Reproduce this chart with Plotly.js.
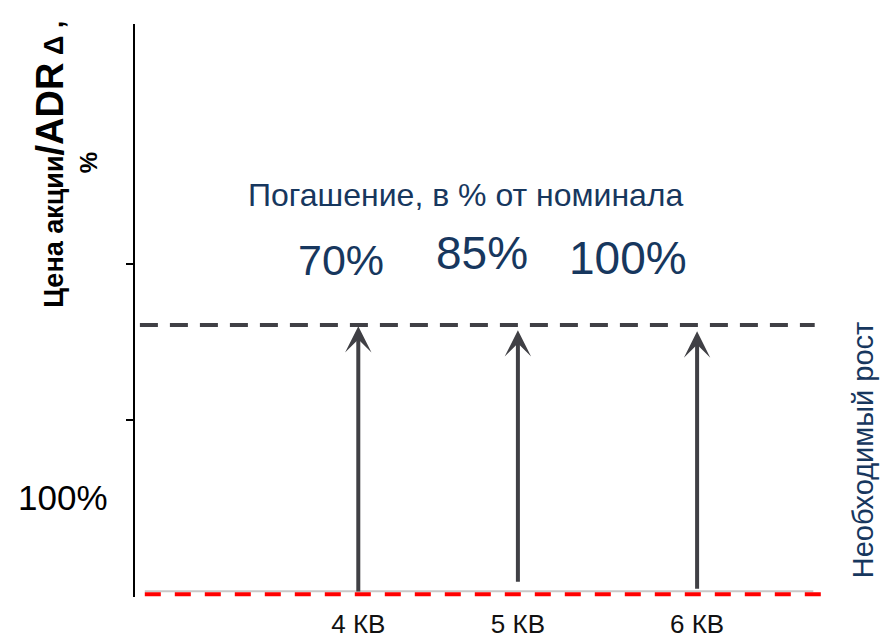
<!DOCTYPE html>
<html>
<head>
<meta charset="utf-8">
<script src="https://cdn.plot.ly/plotly-3.0.1.min.js"></script>
<style>
  html, body { margin: 0; padding: 0; background: #ffffff; }
  #chart { width: 882px; height: 638px; }
</style>
</head>
<body>
<div id="chart"></div>
<script>
// Quarters on the horizontal axis and where each one sits
const quarters = ["4 КВ", "5 КВ", "6 КВ"];
const quarterX = [31.9, 54.7, 80.3];

// Required growth arrows: start (current price) and end (needed level)
const arrowBase = [0.2, 1.9, 0.7];
const arrowTop = [47.0, 46.3, 46.1];

// Redemption share of face value for each quarter
const redemption = ["70%", "85%", "100%"];

// Horizontal levels
const baseLevel = 0;        // current price, 100%
const priceLine = 0.5;      // thin grey price line
const requiredLevel = 47.2; // level the price has to reach
const levelSpanRed = [1.4, 98.1];
const levelSpanGrey = [1.4, 96.9];
const levelSpanReq = [0.7, 97.1];

// Small marks on the vertical axis
const yTicks = [30.5, 57.9];

const FONT = "Arial, 'Liberation Sans', sans-serif";
const BLUE = "#17375e";
const ARROW = "#404045";

const traces = [
  {
    type: "scatter", mode: "lines",
    x: levelSpanGrey, y: [priceLine, priceLine],
    line: { color: "#c8c8c8", width: 2 },
    hoverinfo: "skip", showlegend: false
  },
  {
    type: "scatter", mode: "lines",
    x: levelSpanReq, y: [requiredLevel, requiredLevel],
    line: { color: ARROW, width: 4, dash: "18px,12px" },
    hoverinfo: "skip", showlegend: false
  },
  {
    type: "scatter", mode: "lines",
    x: levelSpanRed, y: [baseLevel, baseLevel],
    line: { color: "#ff0000", width: 4, dash: "16px,14px" },
    hoverinfo: "skip", showlegend: false
  }
];

const annotations = [];

// Growth arrows
quarterX.forEach((qx, i) => {
  annotations.push({
    x: qx, y: arrowTop[i], xref: "x", yref: "y",
    ax: qx, ay: arrowBase[i], axref: "x", ayref: "y",
    text: "", showarrow: true,
    arrowhead: 3, arrowwidth: 4, arrowsize: 1.1, arrowcolor: ARROW
  });
});

// Redemption percentages above the required level
const redemptionPos = [[29.4, 58.6], [49.6, 59.8], [70.4, 58.9]];
const redemptionSize = [43, 46, 46];
redemption.forEach((t, i) => {
  annotations.push({
    x: redemptionPos[i][0], y: redemptionPos[i][1], xref: "x", yref: "y",
    xanchor: "center", yanchor: "middle",
    text: t, showarrow: false,
    font: { family: FONT, size: redemptionSize[i], color: BLUE }
  });
});

annotations.push({
  x: 47.3, y: 70.0, xref: "x", yref: "y",
  xanchor: "center", yanchor: "middle",
  text: "Погашение, в % от номинала", showarrow: false,
  font: { family: FONT, size: 32, color: BLUE }
});

// Current price label on the left
annotations.push({
  x: -0.103, y: 0.1745, xref: "paper", yref: "paper",
  xanchor: "center", yanchor: "middle",
  text: "100%", showarrow: false,
  font: { family: FONT, size: 35, color: "#000000" }
});

// Right-hand caption
annotations.push({
  x: 1.04, y: 0.256, xref: "paper", yref: "paper",
  xanchor: "center", yanchor: "middle",
  text: "Необходимый рост", showarrow: false, textangle: -90,
  font: { family: FONT, size: 29, color: BLUE }
});

// Vertical axis caption, two lines
annotations.push({
  x: -0.121, y: 0.755, xref: "paper", yref: "paper",
  xanchor: "center", yanchor: "middle",
  text: "<b>Цена акции<span style='font-size:38px'>/ADR</span> Δ ,</b>",
  showarrow: false, textangle: -90,
  font: { family: FONT, size: 27, color: "#000000" }
});
annotations.push({
  x: -0.067, y: 0.757, xref: "paper", yref: "paper",
  xanchor: "center", yanchor: "middle",
  text: "<b>%</b>", showarrow: false, textangle: -90,
  font: { family: FONT, size: 24, color: "#000000" }
});

const layout = {
  width: 882, height: 638,
  margin: { l: 135, r: 47, t: 24, b: 41 },
  paper_bgcolor: "#ffffff", plot_bgcolor: "#ffffff",
  showlegend: false,
  xaxis: {
    range: [0, 100],
    showline: false, showgrid: false, zeroline: false,
    tickmode: "array", tickvals: quarterX, ticktext: quarters,
    ticks: "", ticklabelstandoff: 9,
    tickfont: { family: FONT, size: 26, color: "#111111" },
    fixedrange: true
  },
  yaxis: {
    range: [-0.5, 100],
    showline: true, linecolor: "#000000", linewidth: 2,
    showgrid: false, zeroline: false,
    tickmode: "array", tickvals: yTicks, ticks: "outside",
    ticklen: 7, tickwidth: 2, tickcolor: "#000000",
    showticklabels: false, fixedrange: true
  },
  annotations: annotations
};

Plotly.newPlot("chart", traces, layout, { displayModeBar: false, staticPlot: true });
</script>
</body>
</html>
